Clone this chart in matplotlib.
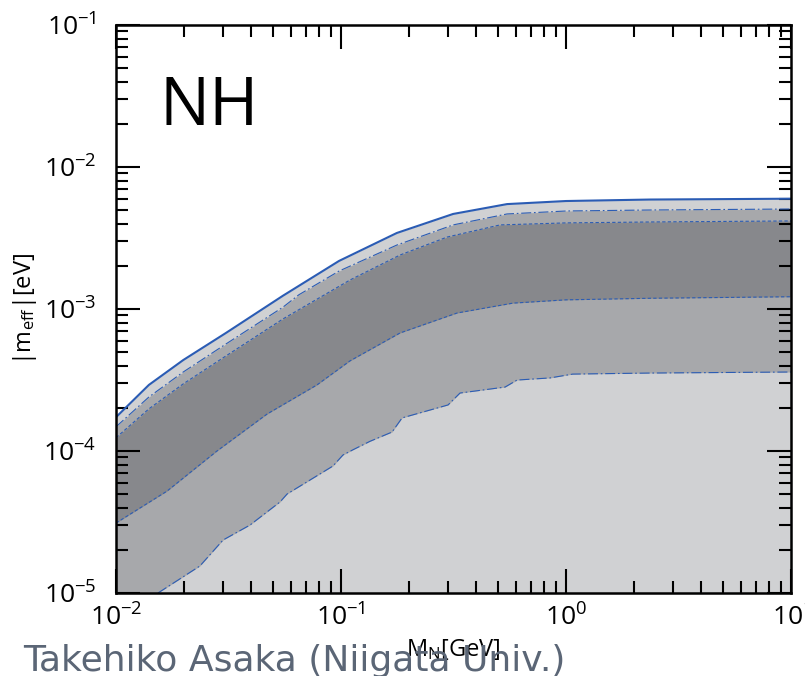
import numpy as np
import matplotlib
matplotlib.use("Agg")
import matplotlib.pyplot as plt
from matplotlib.ticker import LogLocator, FuncFormatter, NullFormatter

# Heavy neutral lepton mass [GeV] and |m_eff| [eV] boundaries (normal hierarchy)
# Upper bound (solid)
solid_x = [0.01, 0.0140, 0.0199, 0.0308, 0.0552, 0.098, 0.177, 0.315, 0.547, 1.0, 2.36, 10.0]
solid_y = [1.73e-4, 2.92e-4, 4.37e-4, 6.78e-4, 1.24e-3, 2.18e-3, 3.43e-3, 4.67e-3, 5.48e-3, 5.76e-3, 5.90e-3, 5.98e-3]

# Outer band, upper edge (dash-dot)
ddup_x = [0.01, 0.0140, 0.0199, 0.0308, 0.0552, 0.065, 0.098, 0.177, 0.315, 0.547, 1.0, 2.36, 10.0]
ddup_y = [1.48e-4, 2.40e-4, 3.60e-4, 5.67e-4, 1.03e-3, 1.26e-3, 1.85e-3, 2.82e-3, 3.91e-3, 4.67e-3, 4.90e-3, 4.98e-3, 5.06e-3]

# Inner band, upper edge (dashed)
dshup_x = [0.01, 0.0140, 0.0199, 0.0308, 0.0552, 0.1096, 0.183, 0.296, 0.509, 1.0, 2.36, 10.0]
dshup_y = [1.24e-4, 1.98e-4, 2.97e-4, 4.67e-4, 8.51e-4, 1.60e-3, 2.40e-3, 3.21e-3, 3.91e-3, 4.04e-3, 4.10e-3, 4.17e-3]

# Inner band, lower edge (dashed)
dshlo_x = [0.01, 0.01686, 0.0281, 0.0469, 0.0782, 0.1096, 0.183, 0.328, 0.581, 1.0, 2.36, 10.0]
dshlo_y = [3.11e-5, 5.22e-5, 1.00e-4, 1.82e-4, 2.92e-4, 4.31e-4, 6.78e-4, 9.37e-4, 1.10e-3, 1.16e-3, 1.19e-3, 1.22e-3]

# Outer band, lower edge (dash-dot)
ddlo_x = [0.01537, 0.0236, 0.0299, 0.0394, 0.0536, 0.0576, 0.0921, 0.102, 0.113, 0.1345,
          0.1686, 0.1868, 0.299, 0.338, 0.536, 0.606, 0.849, 1.07, 2.36, 10.0]
ddlo_y = [1.00e-5, 1.55e-5, 2.36e-5, 3.01e-5, 4.38e-5, 4.98e-5, 7.84e-5, 9.37e-5, 1.02e-4, 1.17e-4,
          1.36e-4, 1.71e-4, 2.11e-4, 2.56e-4, 2.82e-4, 3.16e-4, 3.27e-4, 3.48e-4, 3.54e-4, 3.60e-4]

XLIM = (1e-2, 1e1)
YLIM = (1e-5, 1e-1)

LIGHT = "#d0d1d3"
MID = "#a7a8ab"
DARK = "#87888c"
BLUE = "#2b5cb4"

plt.rcParams["mathtext.fontset"] = "custom"
plt.rcParams["mathtext.rm"] = "Open Sans"
plt.rcParams["mathtext.it"] = "Open Sans"
plt.rcParams["font.family"] = ["Open Sans", "DejaVu Sans"]

fig = plt.figure(figsize=(8.05, 6.76), dpi=100)
ax = fig.add_axes([116 / 805, 1 - 593 / 676, (791 - 116) / 805, (593 - 25) / 676])

ymin = YLIM[0]
ax.fill_between(solid_x, solid_y, ymin, color=LIGHT, lw=0)
ax.fill_between(ddup_x, ddup_y, ymin, color=MID, lw=0)
ax.fill_between(dshup_x, dshup_y, ymin, color=DARK, lw=0)
ax.fill_between(dshlo_x, dshlo_y, ymin, color=MID, lw=0)
ax.fill_between(ddlo_x, ddlo_y, ymin, color=LIGHT, lw=0)

dashdot = (0, (9, 2.5, 1.5, 2.5))
dashed = (0, (3, 2))
ax.plot(solid_x, solid_y, color=BLUE, lw=1.5)
ax.plot(ddup_x, ddup_y, color=BLUE, lw=0.8, linestyle=dashdot)
ax.plot(dshup_x, dshup_y, color=BLUE, lw=0.8, linestyle=dashed)
ax.plot(dshlo_x, dshlo_y, color=BLUE, lw=0.8, linestyle=dashed)
ax.plot(ddlo_x, ddlo_y, color=BLUE, lw=0.8, linestyle=dashdot)

ax.set_xscale("log")
ax.set_yscale("log")
ax.set_xlim(*XLIM)
ax.set_ylim(*YLIM)

def pow10(v, pos):
    e = int(round(np.log10(v)))
    return r"$10^{%d}$" % e

for axis in (ax.xaxis, ax.yaxis):
    axis.set_major_locator(LogLocator(base=10, numticks=10))
    axis.set_minor_locator(LogLocator(base=10, subs=np.arange(2, 10), numticks=20))
    axis.set_major_formatter(FuncFormatter(pow10))
    axis.set_minor_formatter(NullFormatter())

ax.tick_params(which="both", direction="in", top=True, right=True, width=1.5, color="black")
ax.tick_params(which="major", length=17)
ax.tick_params(which="minor", length=8.5)
ax.tick_params(axis="x", which="major", labelsize=19, pad=8)
ax.tick_params(axis="y", which="major", labelsize=19, pad=14)
for s in ax.spines.values():
    s.set_linewidth(1.8)

ax.set_xlabel(r"M$_{\rm N}$[GeV]", fontsize=17, labelpad=4)
ax.set_ylabel(r"|m$_{\rm eff}$|[eV]", fontsize=17, labelpad=3)

ax.text(0.065, 0.915, "NH", transform=ax.transAxes, fontsize=48,
        ha="left", va="top", family="Open Sans")

fig.text(23 / 805, 1 - 671 / 676, "Takehiko Asaka (Niigata Univ.)", fontsize=26,
         color="#5b6676", ha="left", va="baseline", family="DejaVu Sans")

fig.savefig("out.png", dpi=100)
